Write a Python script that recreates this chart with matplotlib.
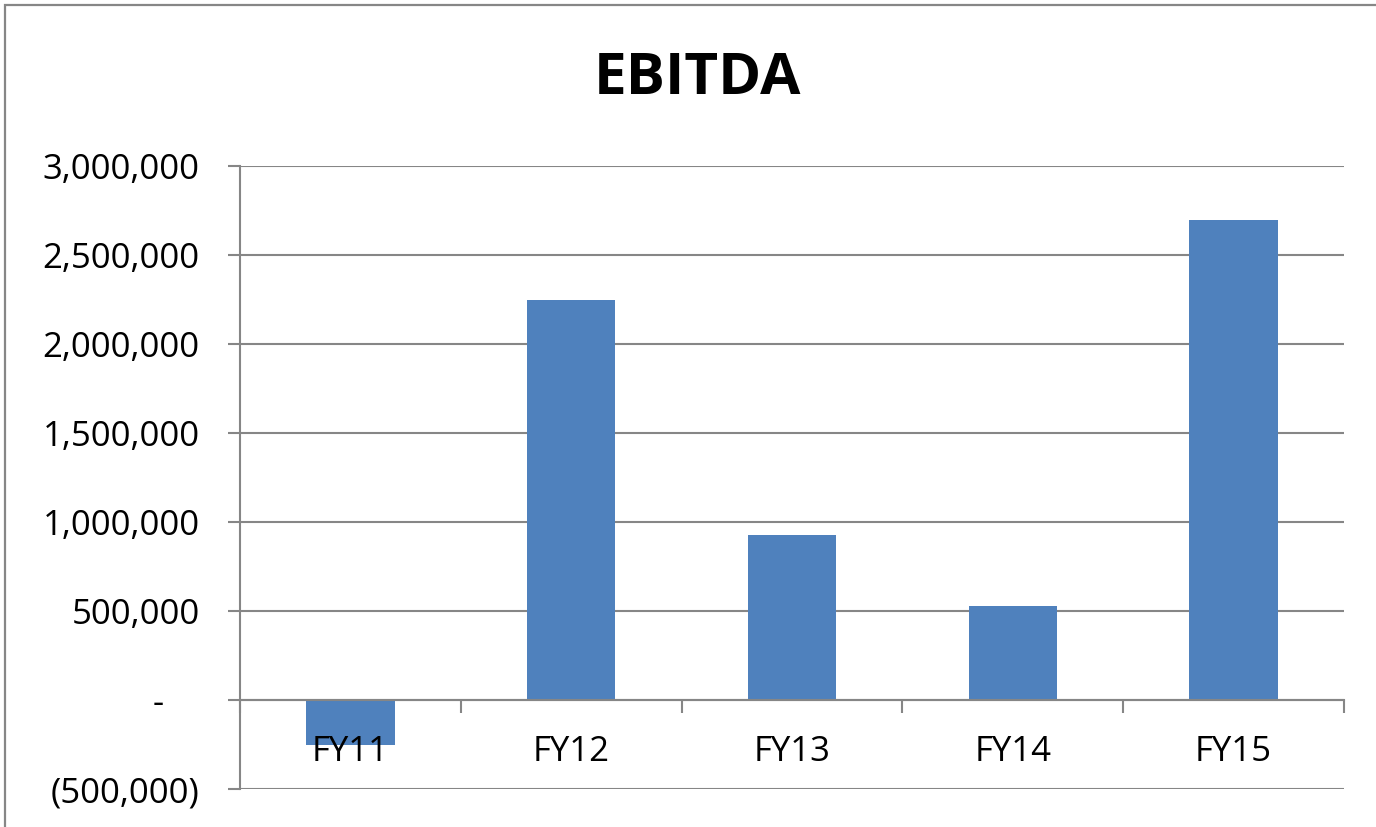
import matplotlib
matplotlib.use("Agg")
import matplotlib.pyplot as plt
from matplotlib.patches import Rectangle
from matplotlib.ticker import FuncFormatter, MultipleLocator, FixedLocator

# data
categories = ["FY11", "FY12", "FY13", "FY14", "FY15"]
ebitda = [-250000, 2245000, 928000, 530000, 2698000]

plt.rcParams['font.family'] = ['Open Sans', 'DejaVu Sans']

W, H = 1376, 827
fig = plt.figure(figsize=(W / 100, H / 100), dpi=100)
ax = fig.add_axes([240 / W, 1 - 789 / H, (1344 - 240) / W, (789 - 166) / H])

grey = "#868686"

# outer chart frame (runs off the right and bottom edge)
fig.patches.append(Rectangle((5 / W, -0.5), 2.0, 1.5 - 5 / H, transform=fig.transFigure,
                             fill=False, edgecolor=grey, linewidth=1.6, clip_on=False))

x = list(range(len(categories)))
ax.bar(x, ebitda, width=0.4, color="#4F81BD", zorder=3)

ax.set_xlim(-0.5, len(categories) - 0.5)
ax.set_ylim(-500000, 3000000)
ax.yaxis.set_major_locator(MultipleLocator(500000))


def acct(v, pos):
    if abs(v) < 1:
        return "-    "
    if v < 0:
        return "({:,.0f})".format(-v)
    return "{:,.0f}".format(v)


ax.yaxis.set_major_formatter(FuncFormatter(acct))
ax.grid(axis="y", color=grey, linewidth=1.5)

ax.set_xticks(x)
ax.set_xticklabels(categories)
ax.xaxis.set_minor_locator(FixedLocator([i - 0.5 for i in range(len(categories) + 1)]))
ax.tick_params(axis="x", which="major", length=0, pad=25, labelsize=25, colors="black")
ax.tick_params(axis="x", which="minor", length=9, width=1.5, color=grey, direction="out")
ax.tick_params(axis="y", length=9, width=1.5, color=grey, pad=20, labelsize=25)

# grid under the bars, category labels on top of them
ax.yaxis.set_zorder(1)
ax.xaxis.set_zorder(5)

for s in ["top", "right"]:
    ax.spines[s].set_visible(False)
ax.spines["bottom"].set_position(("data", 0))
ax.spines["bottom"].set_color(grey)
ax.spines["bottom"].set_linewidth(1.5)
ax.spines["bottom"].set_zorder(4)
ax.spines["left"].set_color(grey)
ax.spines["left"].set_linewidth(1.5)

fig.text(697 / W, 1 - 79 / H, "EBITDA", ha="center", va="center",
         fontsize=42, fontweight="bold")

plt.savefig("out.png", dpi=100)
